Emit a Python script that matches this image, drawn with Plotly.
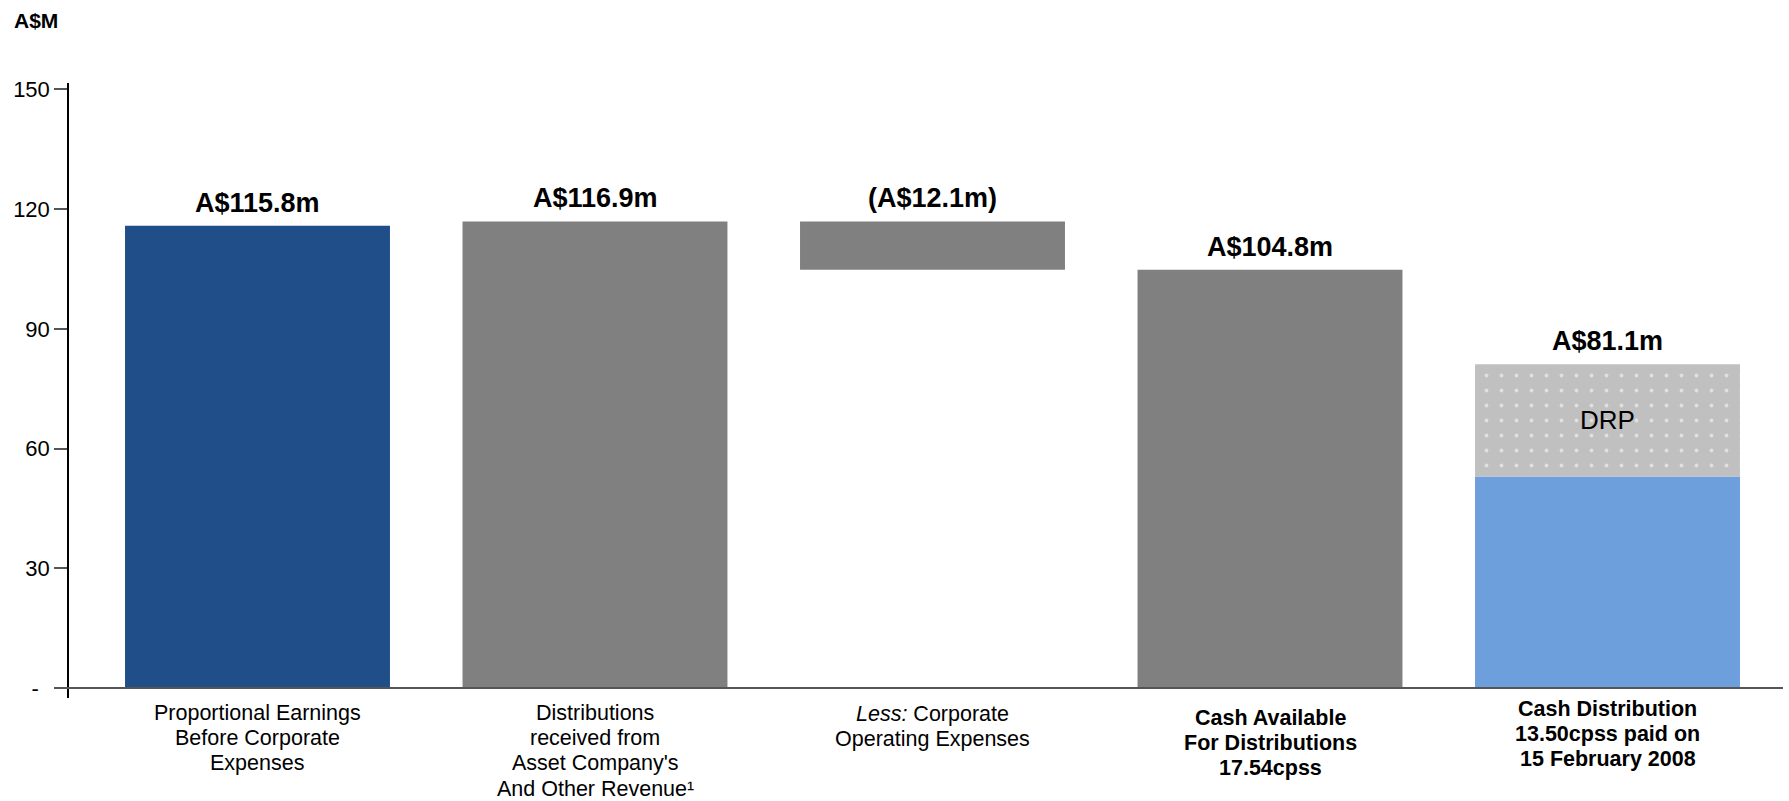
import plotly.graph_objects as go

# ---- data (A$ millions) ----
categories = [
    ["Proportional Earnings", "Before Corporate", "Expenses"],
    ["Distributions", "received from", "Asset Company's", "And Other Revenue\u00b9"],
    ["<i>Less:</i> Corporate", "Operating Expenses"],
    ["<b>Cash Available</b>", "<b>For Distributions</b>", "<b>17.54cpss</b>"],
    ["<b>Cash Distribution</b>", "<b>13.50cpss paid on</b>", "<b>15 February 2008</b>"],
]
earnings_before_corporate = 115.8
distributions_received = 116.9
corporate_expenses = 12.1
cash_available = 104.8
distribution_cash = 53.0
distribution_drp = 28.1

value_labels = ["A$115.8m", "A$116.9m", "(A$12.1m)", "A$104.8m", "A$81.1m"]
y_ticks = [0, 30, 60, 90, 120, 150]
y_tick_text = ["-\u2002", "30", "60", "90", "120", "150"]

# ---- styling ----
FONT = "Arial, 'Liberation Sans', Helvetica, sans-serif"
NAVY = "#1F4E89"
GREY = "#808080"
LIGHT_BLUE = "#6C9FDC"
DRP_GREY = "#C0C0C0"
BAR_W = 0.785

fig = go.Figure()

fig.add_trace(go.Bar(
    x=[0], y=[earnings_before_corporate], width=BAR_W,
    marker=dict(color=NAVY, line=dict(width=0)), hoverinfo="skip",
))
fig.add_trace(go.Bar(
    x=[1, 2, 3],
    y=[distributions_received, corporate_expenses, cash_available],
    base=[0, distributions_received - corporate_expenses, 0],
    width=BAR_W,
    marker=dict(color=GREY, line=dict(width=0)), hoverinfo="skip",
))
fig.add_trace(go.Bar(
    x=[4], y=[distribution_cash], width=BAR_W,
    marker=dict(color=LIGHT_BLUE, line=dict(width=0)), hoverinfo="skip",
))
fig.add_trace(go.Bar(
    x=[4], y=[distribution_drp], base=[distribution_cash], width=BAR_W,
    marker=dict(
        color=DRP_GREY, line=dict(width=0),
        pattern=dict(shape=".", fgcolor="white", bgcolor=DRP_GREY,
                     size=15, solidity=0.05, fillmode="overlay"),
    ),
    hoverinfo="skip",
))

# value labels above each bar
bar_tops = [
    earnings_before_corporate,
    distributions_received,
    distributions_received,
    cash_available,
    distribution_cash + distribution_drp,
]
annotations = []
for i, (top, txt) in enumerate(zip(bar_tops, value_labels)):
    annotations.append(dict(
        x=i, y=top, xref="x", yref="y", text=f"<b>{txt}</b>",
        showarrow=False, xanchor="center", yanchor="middle", yshift=23,
        font=dict(family=FONT, size=27, color="black"),
    ))

# DRP tag inside the stacked segment
annotations.append(dict(
    x=4, y=distribution_cash + distribution_drp / 2, xref="x", yref="y",
    text="DRP", showarrow=False, xanchor="center", yanchor="middle",
    font=dict(family=FONT, size=26, color="black"),
))

# category labels, one annotation per line for tight leading
first_line_px = [15, 15, 16, 20, 11]   # distance below the plot's lower edge
line_gap = 25.2
for i, lines in enumerate(categories):
    for j, line in enumerate(lines):
        annotations.append(dict(
            x=i, y=0, xref="x", yref="paper", text=line, showarrow=False,
            xanchor="center", yanchor="middle",
            yshift=-(first_line_px[i] + j * line_gap),
            font=dict(family=FONT, size=21.5, color="black"),
        ))

# unit label
annotations.append(dict(
    x=-0.0333, y=1.1024, xref="paper", yref="paper", text="<b>A$M</b>",
    showarrow=False, xanchor="left", yanchor="middle",
    font=dict(family=FONT, size=21, color="black"),
))

fig.update_layout(
    width=1789, height=801,
    margin=dict(l=69, r=6, t=83, b=103),
    paper_bgcolor="white", plot_bgcolor="white",
    barmode="overlay", showlegend=False,
    annotations=annotations,
    xaxis=dict(
        range=[-0.5585, 4.520], showgrid=False, zeroline=False,
        showticklabels=False, ticks="", showline=False, fixedrange=True,
    ),
    yaxis=dict(
        range=[-2.5, 151.6], tickvals=y_ticks, ticktext=y_tick_text,
        showgrid=False, zeroline=False, showline=True, linecolor="black",
        linewidth=1.5, ticks="outside", ticklen=13, tickwidth=1.5,
        tickcolor="#555555", tickfont=dict(family=FONT, size=22, color="black"),
        fixedrange=True,
    ),
    shapes=[dict(
        type="line", xref="paper", yref="y", x0=-0.0076, x1=1, y0=0, y1=0,
        line=dict(color="#555555", width=2), layer="above",
    )],
)

fig.write_html("out.html")
